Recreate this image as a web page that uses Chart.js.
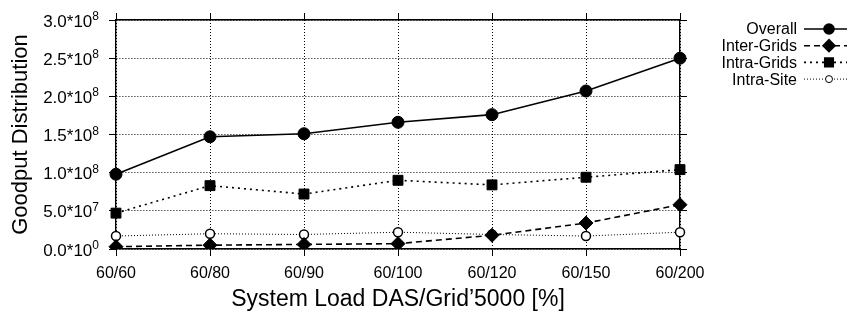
<!DOCTYPE html>
<html>
<head>
<meta charset="utf-8">
<script src="https://cdn.jsdelivr.net/npm/chart.js@4/dist/chart.umd.min.js"></script>
<style>
  html, body { margin: 0; padding: 0; background: #fff; }
  #wrap { width: 849px; height: 316px; }
</style>
</head>
<body>
<div id="wrap"><canvas id="myChart" width="849" height="316"></canvas></div>
<script>
const loads = ["60/60", "60/80", "60/90", "60/100", "60/120", "60/150", "60/200"];
const overall = [0.98e8, 1.47e8, 1.51e8, 1.66e8, 1.76e8, 2.07e8, 2.50e8];
const interGrids = [0.03e8, 0.05e8, 0.06e8, 0.07e8, 0.18e8, 0.34e8, 0.58e8];
const intraGrids = [0.47e8, 0.83e8, 0.72e8, 0.90e8, 0.84e8, 0.94e8, 1.04e8];
const intraSite = [0.17e8, 0.20e8, 0.19e8, 0.22e8, 0.19e8, 0.17e8, 0.22e8];
const yTicks = [0, 0.5e8, 1.0e8, 1.5e8, 2.0e8, 2.5e8, 3.0e8];

const FONT = "'Liberation Sans', Arial, Helvetica, sans-serif";

// split a value into mantissa and exponent, gnuplot "%.1t*10^%T" style
function sciParts(v) {
  if (v === 0) return ["0.0*10", "0"];
  const e = Math.floor(Math.log10(v) + 1e-9);
  return [(v / Math.pow(10, e)).toFixed(1) + "*10", String(e)];
}

// y tick labels with a real raised exponent
const sciTicks = {
  id: "sciTicks",
  afterDraw(chart) {
    const ctx = chart.ctx;
    const sc = chart.scales.y;
    const right = sc.right - 17;
    ctx.save();
    ctx.fillStyle = "#000";
    ctx.textAlign = "right";
    ctx.textBaseline = "alphabetic";
    yTicks.forEach(v => {
      const [m, e] = sciParts(v);
      const y = sc.getPixelForValue(v);
      ctx.font = "12px " + FONT;
      const ew = ctx.measureText(e).width;
      ctx.fillText(e, right, y);
      ctx.font = "17px " + FONT;
      ctx.fillText(m, right - ew, y + 6.5);
    });
    ctx.restore();
  }
};

// gnuplot style key: text right aligned, sample line to the right
const keyPlugin = {
  id: "gnuKey",
  afterDraw(chart) {
    const ctx = chart.ctx;
    const area = chart.chartArea;
    const textX = area.right + 117;
    const x1 = area.right + 124, x2 = area.right + 167;
    ctx.save();
    ctx.font = "16px " + FONT;
    ctx.textAlign = "right";
    ctx.textBaseline = "middle";
    chart.data.datasets.forEach((ds, i) => {
      const y = area.top + 9 + i * 16.7;
      ctx.fillStyle = "#000";
      ctx.fillText(ds.label, textX, y + 1);
      ctx.beginPath();
      ctx.lineWidth = ds.borderWidth;
      ctx.strokeStyle = "#000";
      ctx.setLineDash(ds.borderDash || []);
      ctx.moveTo(x1, y);
      ctx.lineTo(x2, y);
      ctx.stroke();
      ctx.setLineDash([]);
      ctx.fillStyle = ds.pointBackgroundColor;
      ctx.strokeStyle = "#000";
      Chart.helpers.drawPoint(ctx, {
        pointStyle: ds.pointStyle,
        radius: ds.pointRadius - 1,
        borderWidth: ds.pointBorderWidth
      }, x1 + 25, y);
    });
    ctx.restore();
  }
};

const ctx = document.getElementById("myChart").getContext("2d");
new Chart(ctx, {
  type: "line",
  data: {
    labels: loads,
    datasets: [{
      label: "Overall",
      data: overall,
      borderColor: "#000",
      borderWidth: 1.6,
      pointStyle: "circle",
      pointRadius: 6,
      pointBackgroundColor: "#000",
      pointBorderColor: "#000",
      pointBorderWidth: 1,
      order: 4
    }, {
      label: "Inter-Grids",
      data: interGrids,
      borderColor: "#000",
      borderWidth: 1.6,
      borderDash: [6, 4],
      pointStyle: "rectRot",
      pointRadius: 7,
      pointBackgroundColor: "#000",
      pointBorderColor: "#000",
      pointBorderWidth: 1,
      order: 1
    }, {
      label: "Intra-Grids",
      data: intraGrids,
      borderColor: "#000",
      borderWidth: 1.6,
      borderDash: [2, 4],
      pointStyle: "rect",
      pointRadius: 7,
      pointBackgroundColor: "#000",
      pointBorderColor: "#000",
      pointBorderWidth: 1,
      order: 3
    }, {
      label: "Intra-Site",
      data: intraSite,
      borderColor: "#000",
      borderWidth: 1,
      borderDash: [1, 2],
      pointStyle: "circle",
      pointRadius: 4.5,
      pointBackgroundColor: "#fff",
      pointBorderColor: "#000",
      pointBorderWidth: 1.5,
      order: 2
    }]
  },
  options: {
    responsive: false,
    animation: false,
    layout: { padding: 0 },
    plugins: {
      legend: { display: false },
      tooltip: { enabled: false }
    },
    elements: { line: { tension: 0 } },
    scales: {
      x: {
        type: "category",
        offset: false,
        afterFit: s => { s.height = 67; },
        grid: { color: "#000", lineWidth: 1, tickLength: 7, tickColor: "#000", tickBorderDash: [] },
        border: { display: true, color: "#000", width: 1.4, dash: [1, 2] },
        ticks: { color: "#000", font: { family: FONT, size: 16 }, padding: 8, maxRotation: 0 },
        title: { display: true, text: "System Load DAS/Grid\u20195000 [%]", color: "#000",
          font: { family: FONT, size: 23 }, padding: { top: 0, bottom: 3 } }
      },
      x2: {
        type: "category",
        position: "top",
        offset: false,
        afterFit: s => { s.height = 20; },
        grid: { drawOnChartArea: false, color: "#000", tickLength: 7, tickColor: "#000", tickBorderDash: [] },
        border: { display: true, color: "#000", width: 1.4 },
        ticks: { display: false }
      },
      y: {
        min: 0,
        max: 3e8,
        afterFit: s => { s.width = 116; },
        ticks: { display: false, stepSize: 5e7 },
        grid: { color: "#000", lineWidth: 1, tickLength: 7, tickColor: "#000", tickBorderDash: [] },
        border: { display: true, color: "#000", width: 1.4, dash: [1, 2] },
        title: { display: true, text: "Goodput Distribution", color: "#000",
          font: { family: FONT, size: 22 }, padding: { top: 8, bottom: 0 } }
      },
      y2: {
        position: "right",
        min: 0,
        max: 3e8,
        afterFit: s => { s.width = 169; },
        ticks: { display: false, stepSize: 5e7 },
        grid: { drawOnChartArea: false, color: "#000", tickLength: 7, tickColor: "#000", tickBorderDash: [] },
        border: { display: true, color: "#000", width: 1.4 }
      }
    }
  },
  plugins: [sciTicks, keyPlugin]
});
</script>
</body>
</html>
